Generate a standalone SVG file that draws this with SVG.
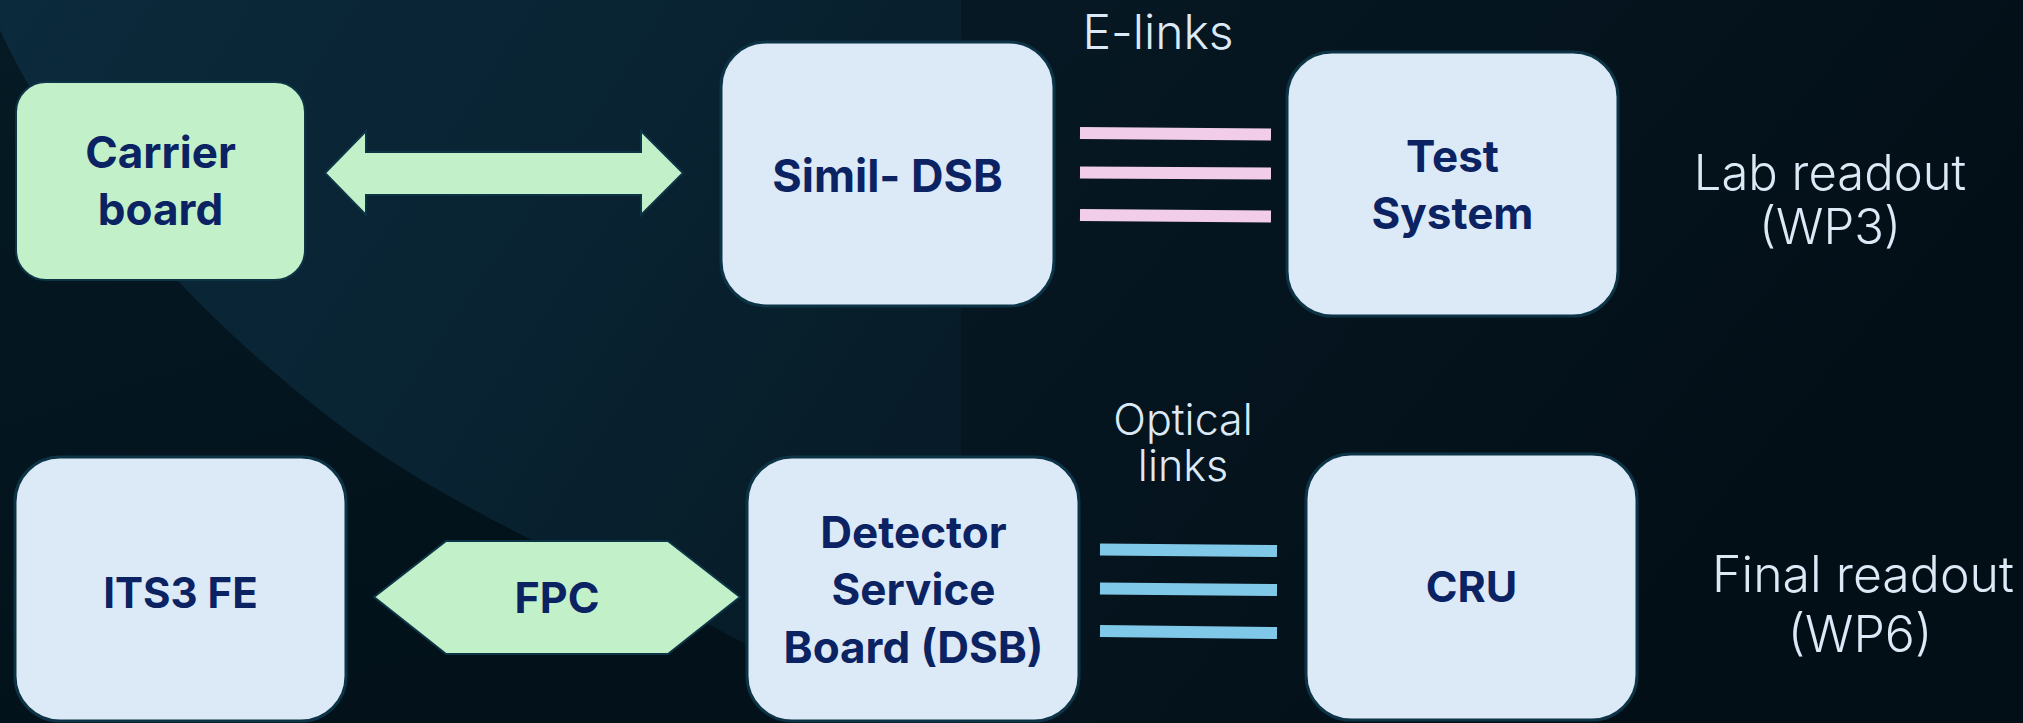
<svg xmlns="http://www.w3.org/2000/svg" width="2023" height="723" viewBox="0 0 2023 723">
  <defs>
    <linearGradient id="bgBase" x1="0" y1="0" x2="1" y2="0.3">
      <stop offset="0" stop-color="#071c28"/>
      <stop offset="0.48" stop-color="#061823"/>
      <stop offset="1" stop-color="#030f17"/>
    </linearGradient>
    <linearGradient id="bgLight" x1="0" y1="0" x2="1" y2="0.5">
      <stop offset="0" stop-color="#0b2a3b"/>
      <stop offset="0.6" stop-color="#092332"/>
      <stop offset="1" stop-color="#071c28"/>
    </linearGradient>
    <linearGradient id="bgDark" x1="0" y1="0" x2="0.4" y2="1">
      <stop offset="0" stop-color="#051a24"/>
      <stop offset="1" stop-color="#02111a"/>
    </linearGradient>
    <style>
      .box { fill: #dce9f7; stroke: #0d3446; stroke-width: 3; }
      .gbox { fill: #c2f0c8; stroke: #0d3446; stroke-width: 2; }
      .lbl { font-family: Inter, "Liberation Sans", sans-serif; font-weight: 700; fill: #0b2362; text-anchor: middle; }
      .note { font-family: Inter, "Open Sans", "Liberation Sans", sans-serif; font-weight: 300; fill: #dce9f7; text-anchor: middle; }
      .elink { stroke: #f1cdea; stroke-width: 12; fill: none; }
      .olink { stroke: #80c8e8; stroke-width: 12; fill: none; }
    </style>
  </defs>

  <!-- background -->
  <rect x="0" y="0" width="2023" height="723" fill="url(#bgBase)"/>
  <path d="M0,30 C60,160 180,300 320,410 C420,490 540,545 680,610 C760,650 830,690 880,723 L0,723 Z" fill="url(#bgDark)"/>
  <path d="M0,0 L0,30 C60,160 180,300 320,410 C420,490 540,545 680,610 C760,650 830,690 880,723 L961,723 L961,0 Z" fill="url(#bgLight)"/>

  <!-- connectors -->
  <g id="connectors">
    <g id="e-links">
      <line class="elink" x1="1080" y1="133" x2="1271" y2="134.5"/>
      <line class="elink" x1="1080" y1="172.5" x2="1271" y2="173.5"/>
      <line class="elink" x1="1080" y1="215" x2="1271" y2="216.5"/>
    </g>
    <g id="optical-links">
      <line class="olink" x1="1100" y1="549.5" x2="1277" y2="551"/>
      <line class="olink" x1="1100" y1="588.5" x2="1277" y2="590"/>
      <line class="olink" x1="1100" y1="631" x2="1277" y2="633"/>
    </g>
    <polygon id="double-arrow" class="gbox" points="325,173 366,131 366,152 641,152 641,131 683,173 641,215 641,195 366,195 366,215"/>
  </g>

  <!-- nodes -->
  <g id="carrier-board">
    <rect class="gbox" x="16" y="82" width="289" height="198" rx="30" ry="30"/>
    <text class="lbl" x="160.5" y="168" font-size="44">Carrier</text>
    <text class="lbl" x="160.5" y="225" font-size="44">board</text>
  </g>

  <g id="simil-dsb">
    <rect class="box" x="721" y="42" width="333" height="264" rx="45" ry="45"/>
    <text class="lbl" x="887.5" y="192" font-size="45">Simil- DSB</text>
  </g>

  <g id="test-system">
    <rect class="box" x="1287" y="52" width="331" height="264" rx="45" ry="45"/>
    <text class="lbl" x="1452.5" y="172" font-size="44">Test</text>
    <text class="lbl" x="1452.5" y="229" font-size="44">System</text>
  </g>

  <g id="its3-fe">
    <rect class="box" x="15" y="457" width="331" height="264" rx="45" ry="45"/>
    <text class="lbl" x="180.5" y="608" font-size="42">ITS3 FE</text>
  </g>

  <g id="fpc">
    <polygon class="gbox" points="374,597 446,541 668,541 740,597 668,654 446,654"/>
    <text class="lbl" x="557" y="613" font-size="43">FPC</text>
  </g>

  <g id="dsb">
    <rect class="box" x="747" y="457" width="332" height="264" rx="45" ry="45"/>
    <text class="lbl" x="913.5" y="548" font-size="44">Detector</text>
    <text class="lbl" x="913.5" y="605" font-size="44">Service</text>
    <text class="lbl" x="913.5" y="663" font-size="44">Board (DSB)</text>
  </g>

  <g id="cru">
    <rect class="box" x="1306" y="454" width="331" height="266" rx="45" ry="45"/>
    <text class="lbl" x="1471.5" y="602" font-size="43">CRU</text>
  </g>

  <!-- labels -->
  <g id="label-elinks">
    <text class="note" x="1158" y="49" font-size="48">E-links</text>
  </g>
  <g id="label-optical">
    <text class="note" x="1183" y="435" font-size="43">Optical</text>
    <text class="note" x="1183" y="481" font-size="43">links</text>
  </g>
  <g id="label-lab">
    <text class="note" x="1830" y="190" font-size="49">Lab readout</text>
    <text class="note" x="1830" y="244" font-size="49">(WP3)</text>
  </g>
  <g id="label-final">
    <text class="note" x="1863" y="592" font-size="50">Final readout</text>
    <text class="note" x="1860" y="652" font-size="50">(WP6)</text>
  </g>
</svg>
